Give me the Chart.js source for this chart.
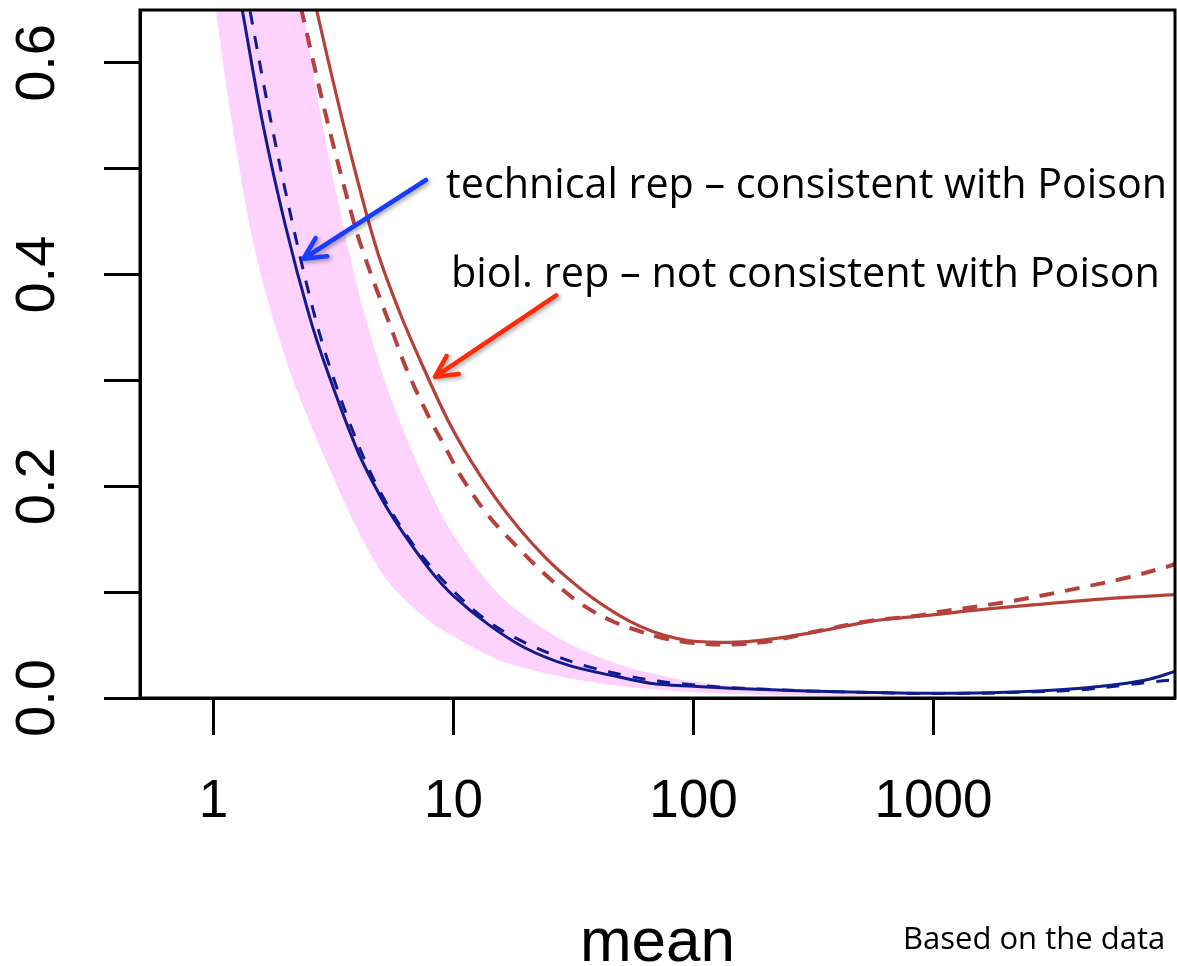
<!DOCTYPE html>
<html>
<head>
<meta charset="utf-8">
<script src="https://cdn.jsdelivr.net/npm/chart.js@4.4.1/dist/chart.umd.min.js"></script>
<style>
  html, body { margin: 0; padding: 0; background: #fff; }
  #wrap { width: 1177px; height: 966px; position: relative; }
</style>
</head>
<body>
<div id="wrap"><canvas id="cvChart"></canvas></div>
<script>
// ════════════════════════════════════════════════════════
// DATA  (x = mean, y = dispersion)
// ════════════════════════════════════════════════════════
const xTickValues = [1, 10, 100, 1000];
const xTickLabels = ['1', '10', '100', '1000'];
const yTickValues = [0, 0.1, 0.2, 0.3, 0.4, 0.5, 0.6];
const yTickLabels = ['0.0', '', '0.2', '', '0.4', '', '0.6'];

// Poisson band (pink)
const bandMeans = [1.0, 1.2, 1.5, 2, 2.5, 3, 4, 5, 6, 8, 10, 15, 20, 30, 50, 70, 100, 200, 500, 1000, 3000, 10200];
const bandLower = [0.665, 0.54, 0.42, 0.32, 0.262, 0.220, 0.158, 0.119, 0.097, 0.072, 0.058, 0.037, 0.028, 0.019, 0.011, 0.008, 0.0055, 0.003, 0.0012, 0.0006, 0.0002, 0.0001];
const bandUpper = [1.50, 1.27, 1.02, 0.77, 0.616, 0.515, 0.386, 0.31, 0.26, 0.195, 0.154, 0.101, 0.077, 0.052, 0.031, 0.0225, 0.0155, 0.008, 0.0033, 0.0016, 0.0006, 0.0002];

// technical replicates (blue)
const techMeans = [1.2, 1.32, 1.6, 2.0, 2.5, 3.0, 4.0, 5.0, 6.0, 8.0, 10, 14, 20, 30, 48, 66, 100, 150, 200, 326, 500, 880, 1500, 2600, 4000, 5800, 8000, 10200];
const techFit   = [0.70, 0.649, 0.544, 0.445, 0.362, 0.307, 0.2325, 0.189, 0.160, 0.1206, 0.0965, 0.0693, 0.047, 0.031, 0.0203, 0.0140, 0.0110, 0.0090, 0.0080, 0.0064, 0.0054, 0.0045, 0.0048, 0.0064, 0.0090, 0.0127, 0.018, 0.0253];
const techDashMeans = [1.3, 1.42, 1.67, 2.0, 2.5, 3.0, 4.0, 5.0, 6.5, 8.2, 10, 13.3, 18.3, 27, 37, 54, 72, 91, 130, 200, 326, 500, 880, 1500, 2600, 4000, 6400, 8000, 10200];
const techDash      = [0.695, 0.649, 0.564, 0.4775, 0.382, 0.318, 0.240, 0.193, 0.151, 0.122, 0.101, 0.0758, 0.0563, 0.0393, 0.0292, 0.0206, 0.0158, 0.0133, 0.0104, 0.0082, 0.0064, 0.0054, 0.0042, 0.0045, 0.0058, 0.0075, 0.0125, 0.0150, 0.0174];

// biological replicates (red)
const bioMeans = [2.4, 3.0, 3.8, 4.8, 6.0, 7.5, 9.5, 12, 15, 19, 24, 30, 38, 48, 60, 75, 95, 120, 150, 190, 240, 300, 380, 480, 600, 750, 950, 1500, 2600, 5000, 10200];
const bioFit   = [0.700, 0.603, 0.507, 0.423, 0.363, 0.312, 0.262, 0.2216, 0.1886, 0.1587, 0.1334, 0.113, 0.0944, 0.0793, 0.0677, 0.0595, 0.0543, 0.0528, 0.0528, 0.0545, 0.0575, 0.0610, 0.0655, 0.0700, 0.0737, 0.0760, 0.0780, 0.083, 0.088, 0.0935, 0.0976];
const bioDashMeans = [2.05, 2.33, 2.9, 3.63, 4.15, 5.6, 6.4, 7.8, 9.37, 10.64, 14, 18.4, 23, 28.6, 35, 45, 58, 75, 100, 140, 200, 230, 326, 527, 880, 1000, 2090, 4350, 6380, 9670, 10200];
const bioDash      = [0.70, 0.649, 0.556, 0.470, 0.425, 0.3445, 0.3097, 0.268, 0.2343, 0.211, 0.172, 0.143, 0.121, 0.102, 0.087, 0.0735, 0.064, 0.0565, 0.052, 0.0505, 0.053, 0.0555, 0.063, 0.0724, 0.078, 0.0806, 0.0913, 0.1054, 0.1136, 0.1249, 0.127];

// ════════════════════════════════════════════════════════
// ANNOTATIONS (anchored in data coordinates)
// ════════════════════════════════════════════════════════
const notes = [
  { text: 'technical rep \u2013 consistent with Poison', at: [9.31, 0.4727], width: 721 },
  { text: 'biol. rep \u2013 not consistent with Poison', at: [9.76, 0.3879], width: 709 }
];
const arrows = [
  { from: [7.68, 0.4894], to: [2.37, 0.415], color: '#1a3cff' },
  { from: [26.8, 0.3804], to: [8.37, 0.3034], color: '#ff2a0a' }
];

const BLUE = '#101c8e';
const RED = '#b5413a';
const PINK = '#fdd2fd';
const AXIS_FONT = '"Liberation Sans", Arial, Helvetica, sans-serif';
const NOTE_FONT = '"Open Sans", "Noto Sans", sans-serif';

const toPts = (xs, ys) => xs.map((x, i) => ({ x, y: ys[i] }));

function drawArrow(ctx, x1, y1, x2, y2, color) {
  const ang = Math.atan2(y1 - y2, x1 - x2);
  const head = 24, spread = 0.47;
  ctx.save();
  ctx.strokeStyle = color;
  ctx.lineWidth = 4.5;
  ctx.lineCap = 'round';
  ctx.lineJoin = 'round';
  ctx.shadowColor = 'rgba(0,0,0,0.35)';
  ctx.shadowBlur = 4;
  ctx.shadowOffsetX = 2;
  ctx.shadowOffsetY = 2;
  ctx.beginPath();
  ctx.moveTo(x1, y1);
  ctx.lineTo(x2, y2);
  ctx.moveTo(x2 + head * Math.cos(ang - spread), y2 + head * Math.sin(ang - spread));
  ctx.lineTo(x2, y2);
  ctx.lineTo(x2 + head * Math.cos(ang + spread), y2 + head * Math.sin(ang + spread));
  ctx.stroke();
  ctx.restore();
}

const annotate = {
  id: 'annotate',
  afterDraw(chart) {
    const { ctx, chartArea: a, scales: { x, y } } = chart;
    ctx.save();
    // R-style box round the plot region
    ctx.strokeStyle = '#000';
    ctx.lineWidth = 3;
    ctx.strokeRect(a.left, a.top, a.right - a.left, a.bottom - a.top);

    for (const ar of arrows) {
      drawArrow(ctx,
        x.getPixelForValue(ar.from[0]), y.getPixelForValue(ar.from[1]),
        x.getPixelForValue(ar.to[0]), y.getPixelForValue(ar.to[1]), ar.color);
    }

    ctx.fillStyle = '#000';
    ctx.textAlign = 'left';
    ctx.textBaseline = 'alphabetic';
    ctx.font = '41.5px ' + NOTE_FONT;
    for (const n of notes) {
      ctx.fillText(n.text, x.getPixelForValue(n.at[0]), y.getPixelForValue(n.at[1]), n.width);
    }

    // axis title
    ctx.textAlign = 'center';
    ctx.font = '62px ' + AXIS_FONT;
    ctx.fillText('mean', (a.left + a.right) / 2, 961);

    // source note
    ctx.textAlign = 'left';
    ctx.font = '31px ' + NOTE_FONT;
    ctx.fillText('Based on the data', 903, 949, 266);
    ctx.restore();
  }
};

new Chart(document.getElementById('cvChart'), {
  type: 'line',
  data: {
    datasets: [
      { label: 'biol. rep', data: toPts(bioMeans, bioFit), borderColor: RED, borderWidth: 3.2, order: 1 },
      { label: 'biol. rep (dashed)', data: toPts(bioDashMeans, bioDash), borderColor: RED, borderWidth: 4, borderDash: [15, 11], order: 2 },
      { label: 'technical rep', data: toPts(techMeans, techFit), borderColor: BLUE, borderWidth: 3, order: 3 },
      { label: 'technical rep (dashed)', data: toPts(techDashMeans, techDash), borderColor: BLUE, borderWidth: 3, borderDash: [13, 12], order: 4 },
      { label: 'Poisson low', data: toPts(bandMeans, bandLower), borderColor: 'transparent', borderWidth: 0, fill: false, order: 9 },
      { label: 'Poisson high', data: toPts(bandMeans, bandUpper), borderColor: 'transparent', borderWidth: 0, backgroundColor: PINK, fill: '-1', order: 9 }
    ]
  },
  options: {
    responsive: true, maintainAspectRatio: false, animation: false,
    layout: { padding: { top: 10, right: 2, left: 0, bottom: 0 } },
    elements: { point: { radius: 0 }, line: { tension: 0.35 } },
    plugins: { legend: { display: false }, tooltip: { enabled: false } },
    scales: {
      x: {
        type: 'logarithmic', min: 0.494, max: 10150,
        afterBuildTicks: axis => { axis.ticks = xTickValues.map(v => ({ value: v })); },
        afterFit: s => { s.height = 268; s.paddingLeft = 0; s.paddingRight = 0; },
        grid: { display: true, drawOnChartArea: false, drawTicks: true, tickLength: 37, tickWidth: 3, tickColor: '#000' },
        border: { display: true, color: '#000', width: 3 },
        ticks: { color: '#000', font: { family: AXIS_FONT, size: 53 }, padding: 36, maxRotation: 0, minRotation: 0, autoSkip: false,
                 callback: (v, i) => xTickLabels[i] }
      },
      y: {
        type: 'linear', min: 0, max: 0.65,
        afterBuildTicks: axis => { axis.ticks = yTickValues.map(v => ({ value: v })); },
        afterFit: s => { s.width = 140; s.paddingTop = 0; s.paddingBottom = 0; },
        grid: { display: true, drawOnChartArea: false, drawTicks: true, tickLength: 36, tickWidth: 3, tickColor: '#000' },
        border: { display: true, color: '#000', width: 3 },
        ticks: { color: '#000', font: { family: AXIS_FONT, size: 56 }, padding: 27, minRotation: 90, maxRotation: 90, crossAlign: 'center', autoSkip: false,
                 callback: (v, i) => yTickLabels[i] }
      }
    }
  },
  plugins: [annotate]
});
</script>
</body>
</html>
